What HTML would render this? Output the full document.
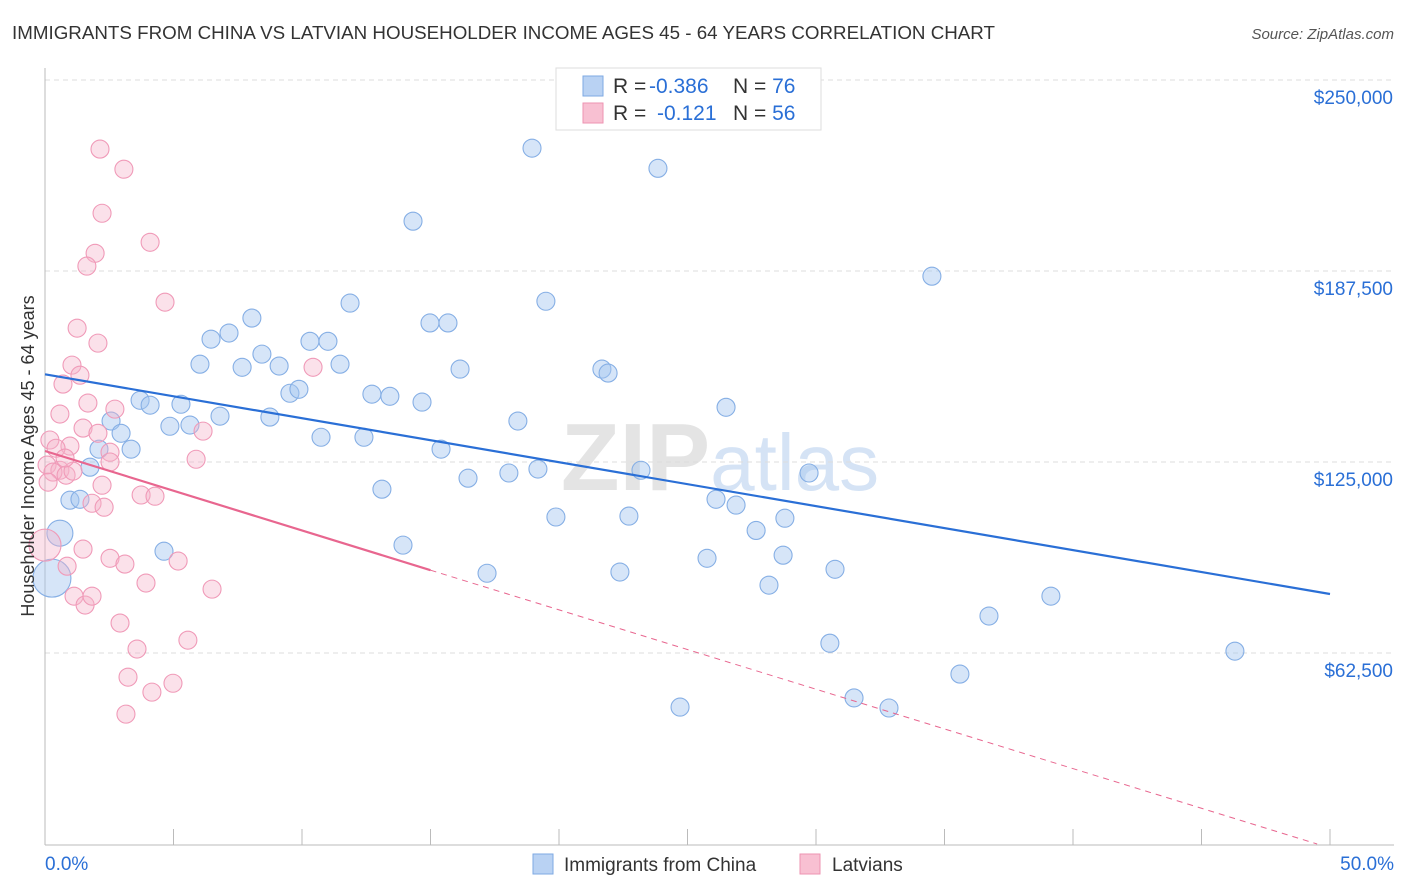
<!DOCTYPE html>
<html><head><meta charset="utf-8"><style>
body{margin:0;background:#fff;font-family:"Liberation Sans",sans-serif;}
svg{display:block}
</style></head><body>
<svg id="chart" width="1406" height="892" xmlns="http://www.w3.org/2000/svg" font-family="Liberation Sans, sans-serif">
<text x="12" y="39" font-size="18" fill="#333" textLength="983" lengthAdjust="spacingAndGlyphs">IMMIGRANTS FROM CHINA VS LATVIAN HOUSEHOLDER INCOME AGES 45 - 64 YEARS CORRELATION CHART</text>
<text x="1394" y="39" font-size="15" fill="#555" font-style="italic" text-anchor="end">Source: ZipAtlas.com</text>
<text x="720" y="490" font-size="96" fill="#e4e4e4" text-anchor="middle" font-weight="bold">ZIP<tspan fill="#d5e3f5" font-weight="normal" font-size="80">atlas</tspan></text>
<g id="grid"></g>
<g id="axes"></g>
<g id="pts"></g>
<g id="lines"></g>
<text transform="translate(34,456) rotate(-90)" font-size="18" fill="#333" text-anchor="middle">Householder Income Ages 45 - 64 years</text>
<g>
<rect x="556" y="68" width="265" height="62" fill="#fff" stroke="#ddd"/>
<rect x="583" y="76" width="20" height="20" fill="#b9d2f3" stroke="#7ea9e3"/>
<rect x="583" y="103" width="20" height="20" fill="#f8c0d2" stroke="#ee93b2"/>
<text x="613" y="93" font-size="21" fill="#333">R = <tspan x="649" fill="#2a6fd6">-0.386</tspan></text>
<text x="733" y="93" font-size="21" fill="#333">N = <tspan fill="#2a6fd6">76</tspan></text>
<text x="613" y="120" font-size="21" fill="#333">R = <tspan x="657" fill="#2a6fd6">-0.121</tspan></text>
<text x="733" y="120" font-size="21" fill="#333">N = <tspan fill="#2a6fd6">56</tspan></text>
</g>
<g>
<rect x="533" y="854" width="20" height="20" fill="#b9d2f3" stroke="#7ea9e3"/>
<text x="564" y="871" font-size="19" fill="#333">Immigrants from China</text>
<rect x="800" y="854" width="20" height="20" fill="#f8c0d2" stroke="#ee93b2"/>
<text x="832" y="871" font-size="19" fill="#333">Latvians</text>
</g>
</svg>
<script>
const yTicks=[62500,125000,187500,250000];
const yTickLabels=["$62,500","$125,000","$187,500","$250,000"];
const xTickLabels=["0.0%","50.0%"];
const chinaX=[18.95,23.85,14.32,34.51,11.87,19.49,8.05,14.98,15.68,7.16,6.46,10.31,11.01,6.03,7.67,8.44,9.11,11.48,16.15,21.67,21.91,9.53,9.88,12.72,13.42,14.67,26.5,3.7,4.09,5.29,6.81,8.75,2.57,4.86,5.64,2.96,10.74,12.41,18.4,2.1,3.35,15.41,1.75,16.46,18.05,19.18,23.19,29.73,13.11,26.11,26.89,0.97,1.36,19.88,22.72,28.79,27.67,0.58,4.63,13.93,25.76,28.72,17.2,22.37,30.74,28.17,0.27,39.14,36.73,30.54,46.3,35.6,31.48,24.71,32.84,21.05];
const chinaY=[227.7,221.1,203.8,185.8,177,177.6,172.1,170.5,170.5,167.2,165.2,164.5,164.5,157,156,160.3,156.4,157,155.4,155.4,154.1,147.5,148.8,147.2,146.5,144.6,142.9,145.2,143.6,143.9,140,139.7,138.4,136.7,137.1,134.4,133.1,133.1,138.4,129.2,129.2,129.2,123.3,119.7,121.4,122.7,122.3,121.4,116.1,112.8,110.9,112.5,112.8,107,107.3,106.6,102.6,101.7,95.8,97.8,93.5,94.5,88.6,89,89.9,84.7,87,81.1,74.6,65.7,63.1,55.6,47.8,44.8,44.5,241.8];
const chinaR=[9,9,9,9,9,9,9,9,9,9,9,9,9,9,9,9,9,9,9,9,9,9,9,9,9,9,9,9,9,9,9,9,9,9,9,9,9,9,9,9,9,9,9,9,9,9,9,9,9,9,9,9,9,9,9,9,9,13,9,9,9,9,9,9,9,9,19,9,9,9,9,9,9,9,9,9];
const latX=[2.14,3.07,2.22,4.09,1.95,1.63,4.67,1.25,2.06,1.05,1.36,0.7,1.67,2.72,0.58,1.48,2.06,6.15,10.43,0.19,0.97,0.43,2.53,0.08,0.58,0.31,0.82,1.09,0.78,2.53,5.88,2.22,1.83,2.3,3.74,4.28,0.12,0,1.48,2.53,3.11,5.18,0.86,1.13,1.56,1.83,3.93,6.5,2.92,5.56,3.58,3.23,4.98,4.16,3.15];
const latY=[227.4,220.8,206.4,196.9,193.3,189.1,177.3,168.8,163.9,156.7,153.4,150.5,144.3,142.3,140.7,136.1,134.4,135.1,156,132.2,130.2,129.5,128.2,124,122.3,121.7,120.7,122,126.3,125,125.9,117.4,111.5,110.2,114.2,113.8,118.4,97.8,96.5,93.5,91.6,92.6,90.9,81.1,78.2,81.1,85.4,83.4,72.3,66.7,63.8,54.6,52.6,49.7,42.5];
const latR=latX.map((_,i)=>i===37?16:9);
const chinaTrend=[[0,153.7],[50,81.8]];
const latTrendSolid=[[0,128.6],[15,89.6]];
const latTrendDash=[[15,89.6],[49.5,0]];
const NS="http://www.w3.org/2000/svg";
const X=v=>45+v*(1285/50);
const Y=v=>844-v*1000*(191/62500);
function mk(tag,attrs,parent){const e=document.createElementNS(NS,tag);for(const k in attrs)e.setAttribute(k,attrs[k]);document.getElementById(parent).appendChild(e);return e;}
yTicks.forEach((t,i)=>{
  const l=mk('line',{x1:45,x2:1394,y1:Y(t/1000),y2:Y(t/1000),stroke:'#ddd','stroke-dasharray':'5,4'},'grid');
  
  
  const tx=mk('text',{x:1393,y:Y(t/1000)+24,'font-size':19,fill:'#2a6fd6','text-anchor':'end'},'grid');
  tx.textContent=yTickLabels[i];
  
  
});
const ax=mk('line',{x1:45,x2:45,y1:68,y2:845,stroke:'#bbb'},'axes');


const bx=mk('line',{x1:45,x2:1394,y1:845,y2:845,stroke:'#bbb'},'axes');


for(let i=0;i<=10;i++){
  const t=mk('line',{x1:X(i*5),x2:X(i*5),y1:829,y2:845,stroke:'#bbb'},'axes');
  
  
}
[[0,'start',45],[50,'end',1394]].forEach((d,i)=>{
  const t=mk('text',{x:d[2],y:870,'font-size':19,fill:'#2a6fd6','text-anchor':d[1]},'axes');
  t.textContent=xTickLabels[i];
  
  
});
chinaX.forEach((x,i)=>{
  const c=mk('circle',{cx:X(x),cy:Y(chinaY[i]),r:chinaR[i],fill:'rgba(165,198,240,0.45)',stroke:'#86afe5','stroke-width':1.1},'pts');
  
  
});
latX.forEach((x,i)=>{
  const c=mk('circle',{cx:X(x),cy:Y(latY[i]),r:latR[i],fill:'rgba(246,180,203,0.4)',stroke:'#f09ab8','stroke-width':1.1},'pts');
  
  
});
const l1=mk('line',{x1:X(chinaTrend[0][0]),y1:Y(chinaTrend[0][1]),x2:X(chinaTrend[1][0]),y2:Y(chinaTrend[1][1]),stroke:'#2a6fd6','stroke-width':2.2},'lines');


const l2=mk('line',{x1:X(latTrendSolid[0][0]),y1:Y(latTrendSolid[0][1]),x2:X(latTrendSolid[1][0]),y2:Y(latTrendSolid[1][1]),stroke:'#e8668f','stroke-width':2.2},'lines');


const l3=mk('line',{x1:X(latTrendDash[0][0]),y1:Y(latTrendDash[0][1]),x2:X(latTrendDash[1][0]),y2:Y(latTrendDash[1][1]),stroke:'#e8668f','stroke-width':1,'stroke-dasharray':'6,5'},'lines');


</script>
</body></html>
